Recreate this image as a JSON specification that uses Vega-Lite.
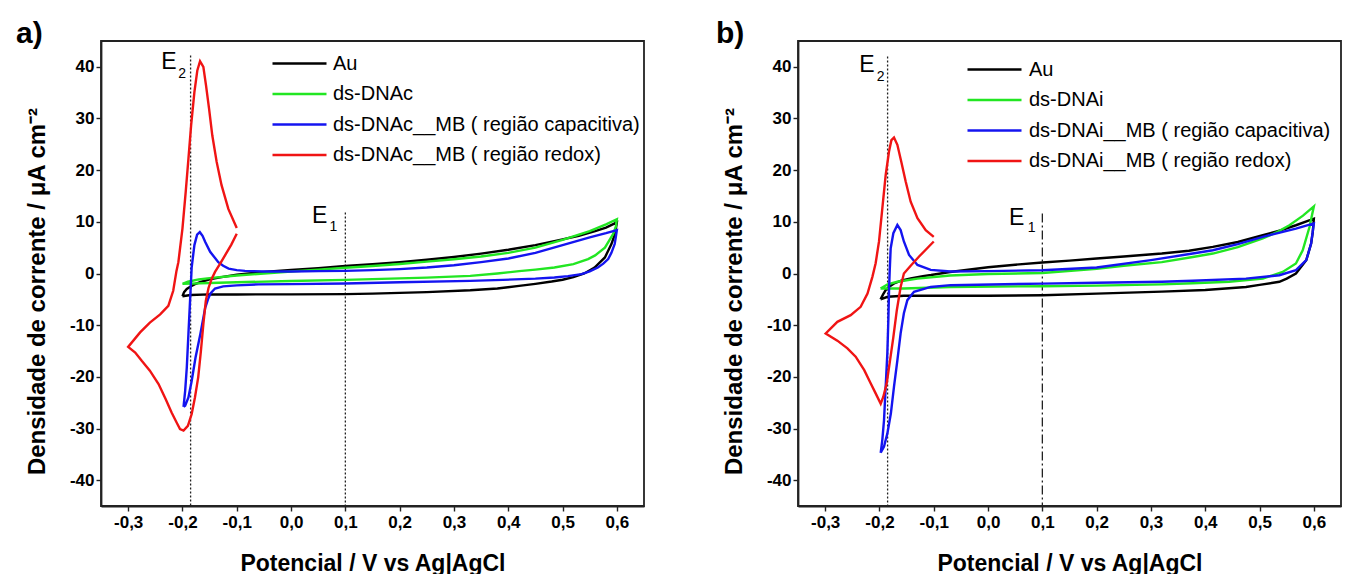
{
  "$schema": "https://vega.github.io/schema/vega-lite/v6.json",
  "background": "white",
  "padding": {"left": 15, "top": 18, "right": 5, "bottom": 0},
  "spacing": 70,
  "config": {
    "font": "Liberation Sans",
    "view": {"stroke": "#222", "strokeWidth": 1.8},
    "axis": {
      "grid": false,
      "domainColor": "#222",
      "domainWidth": 1.8,
      "tickColor": "#222",
      "tickWidth": 1.4,
      "labelFont": "Liberation Sans",
      "labelFontSize": 17,
      "labelFontWeight": "bold",
      "labelColor": "black",
      "labelOverlap": false,
      "labelFlush": false,
      "titleFont": "Liberation Sans",
      "titleFontWeight": "bold",
      "titleColor": "black"
    },
    "axisX": {
      "values": [-0.3, -0.25, -0.2, -0.15, -0.1, -0.05, 0, 0.05, 0.1, 0.15, 0.2, 0.25, 0.3, 0.35, 0.4, 0.45, 0.5, 0.55, 0.6],
      "labelExpr": "abs(datum.value*10 - round(datum.value*10)) > 0.01 ? '' : (datum.value < -0.001 ? '-' : '') + replace(format(abs(datum.value), '.1f'), '.', ',')",
      "tickSize": {"condition": {"test": "abs(datum.value*10 - round(datum.value*10)) > 0.01", "value": 3}, "value": 5},
      "labelPadding": 3,
      "titleFontSize": 23,
      "titlePadding": 22
    },
    "axisY": {
      "values": [-40, -35, -30, -25, -20, -15, -10, -5, 0, 5, 10, 15, 20, 25, 30, 35, 40],
      "labelExpr": "datum.value % 10 != 0 ? '' : (datum.value < 0 ? '-' : '') + format(abs(datum.value), 'd')",
      "tickSize": {"condition": {"test": "datum.value % 10 != 0", "value": 3}, "value": 5},
      "labelPadding": 2,
      "titleFontSize": 24,
      "titlePadding": 20,
      "titleY": 250
    },
    "legend": {
      "orient": "none",
      "title": null,
      "padding": 0,
      "symbolType": "M-3,0H3",
      "symbolSize": 324,
      "symbolStrokeWidth": 2.5,
      "labelFont": "Liberation Sans",
      "labelFontSize": 20,
      "labelColor": "black",
      "labelLimit": 400,
      "rowPadding": 9.5
    }
  },
  "resolve": {"scale": {"color": "independent"}, "legend": {"color": "independent"}},
  "hconcat": [
    {
      "width": 543,
      "height": 465,
      "title": {"text": "a)", "anchor": "start", "frame": "group", "fontSize": 30, "fontWeight": "bold", "color": "black", "dx": -85, "offset": -8, "baseline": "top"},
      "encoding": {
        "x": {"field": "E", "type": "quantitative", "scale": {"domain": [-0.35, 0.65], "nice": false, "zero": false}, "axis": {"title": "Potencial / V vs Ag|AgCl"}},
        "y": {"field": "j", "type": "quantitative", "scale": {"domain": [-45, 45], "nice": false, "zero": false}, "axis": {"title": "Densidade de corrente / μA cm⁻²"}}
      },
      "layer": [
        {
          "data": {"values": [{"E": -0.185, "j": 42.2}, {"E": 0.1, "j": 11.8}]},
          "mark": {"type": "rule", "strokeDash": [2, 2], "strokeWidth": 1.3, "color": "#222"},
          "encoding": {"y2": {"datum": -45}}
        },
        {
          "data": {"values": [
            {"s":"k","n":0,"E":-0.2,"j":-4.4},{"s":"k","n":1,"E":-0.197,"j":-3.6},{"s":"k","n":2,"E":-0.192,"j":-3.0},{"s":"k","n":3,"E":-0.185,"j":-2.5},{"s":"k","n":4,"E":-0.177,"j":-2.06},{"s":"k","n":5,"E":-0.165,"j":-1.6},{"s":"k","n":6,"E":-0.15,"j":-1.15},{"s":"k","n":7,"E":-0.128,"j":-0.7},{"s":"k","n":8,"E":-0.1,"j":-0.25},{"s":"k","n":9,"E":-0.05,"j":0.3},{"s":"k","n":10,"E":0,"j":0.7},{"s":"k","n":11,"E":0.05,"j":1.05},{"s":"k","n":12,"E":0.1,"j":1.45},{"s":"k","n":13,"E":0.15,"j":1.8},{"s":"k","n":14,"E":0.2,"j":2.2},{"s":"k","n":15,"E":0.25,"j":2.65},{"s":"k","n":16,"E":0.3,"j":3.2},{"s":"k","n":17,"E":0.35,"j":3.85},{"s":"k","n":18,"E":0.4,"j":4.6},{"s":"k","n":19,"E":0.45,"j":5.5},{"s":"k","n":20,"E":0.5,"j":6.6},{"s":"k","n":21,"E":0.53,"j":7.3},{"s":"k","n":22,"E":0.56,"j":8.2},{"s":"k","n":23,"E":0.58,"j":8.9},{"s":"k","n":24,"E":0.6,"j":9.9},
            {"s":"k","n":25,"E":0.597,"j":7.8},{"s":"k","n":26,"E":0.59,"j":5.7},{"s":"k","n":27,"E":0.578,"j":3.1},{"s":"k","n":28,"E":0.559,"j":1.16},{"s":"k","n":29,"E":0.54,"j":0.0},{"s":"k","n":30,"E":0.52,"j":-0.7},{"s":"k","n":31,"E":0.5,"j":-1.2},{"s":"k","n":32,"E":0.48,"j":-1.55},{"s":"k","n":33,"E":0.45,"j":-2.0},{"s":"k","n":34,"E":0.42,"j":-2.4},{"s":"k","n":35,"E":0.38,"j":-2.9},{"s":"k","n":36,"E":0.33,"j":-3.25},{"s":"k","n":37,"E":0.25,"j":-3.6},{"s":"k","n":38,"E":0.15,"j":-3.9},{"s":"k","n":39,"E":0.1,"j":-4.0},{"s":"k","n":40,"E":0,"j":-4.05},{"s":"k","n":41,"E":-0.1,"j":-4.05},{"s":"k","n":42,"E":-0.15,"j":-4.05},{"s":"k","n":43,"E":-0.185,"j":-4.15},{"s":"k","n":44,"E":-0.2,"j":-4.4},
            {"s":"g","n":0,"E":-0.2,"j":-2.0},{"s":"g","n":1,"E":-0.19,"j":-1.6},{"s":"g","n":2,"E":-0.17,"j":-1.15},{"s":"g","n":3,"E":-0.15,"j":-0.9},{"s":"g","n":4,"E":-0.1,"j":-0.4},{"s":"g","n":5,"E":-0.05,"j":0.0},{"s":"g","n":6,"E":0,"j":0.4},{"s":"g","n":7,"E":0.05,"j":0.75},{"s":"g","n":8,"E":0.1,"j":1.1},{"s":"g","n":9,"E":0.15,"j":1.45},{"s":"g","n":10,"E":0.2,"j":1.85},{"s":"g","n":11,"E":0.25,"j":2.3},{"s":"g","n":12,"E":0.3,"j":2.75},{"s":"g","n":13,"E":0.35,"j":3.3},{"s":"g","n":14,"E":0.4,"j":4.0},{"s":"g","n":15,"E":0.45,"j":5.0},{"s":"g","n":16,"E":0.5,"j":6.5},{"s":"g","n":17,"E":0.55,"j":8.2},{"s":"g","n":18,"E":0.58,"j":9.5},{"s":"g","n":19,"E":0.6,"j":10.5},
            {"s":"g","n":20,"E":0.598,"j":9.0},{"s":"g","n":21,"E":0.593,"j":7.6},{"s":"g","n":22,"E":0.585,"j":6.2},{"s":"g","n":23,"E":0.578,"j":5.0},{"s":"g","n":24,"E":0.56,"j":3.5},{"s":"g","n":25,"E":0.547,"j":2.8},{"s":"g","n":26,"E":0.52,"j":1.8},{"s":"g","n":27,"E":0.485,"j":1.16},{"s":"g","n":28,"E":0.45,"j":0.75},{"s":"g","n":29,"E":0.42,"j":0.45},{"s":"g","n":30,"E":0.38,"j":0.0},{"s":"g","n":31,"E":0.33,"j":-0.45},{"s":"g","n":32,"E":0.25,"j":-0.8},{"s":"g","n":33,"E":0.2,"j":-0.95},{"s":"g","n":34,"E":0.1,"j":-1.23},{"s":"g","n":35,"E":0,"j":-1.45},{"s":"g","n":36,"E":-0.1,"j":-1.7},{"s":"g","n":37,"E":-0.15,"j":-1.85},{"s":"g","n":38,"E":-0.2,"j":-2.0},
            {"s":"b","n":0,"E":-0.198,"j":-25.8},{"s":"b","n":1,"E":-0.195,"j":-22.7},{"s":"b","n":2,"E":-0.192,"j":-18.2},{"s":"b","n":3,"E":-0.189,"j":-11.7},{"s":"b","n":4,"E":-0.186,"j":-5.3},{"s":"b","n":5,"E":-0.183,"j":1.2},{"s":"b","n":6,"E":-0.178,"j":5.5},{"s":"b","n":7,"E":-0.173,"j":7.5},{"s":"b","n":8,"E":-0.168,"j":8.0},{"s":"b","n":9,"E":-0.163,"j":7.3},{"s":"b","n":10,"E":-0.158,"j":6.1},{"s":"b","n":11,"E":-0.149,"j":4.2},{"s":"b","n":12,"E":-0.14,"j":3.0},{"s":"b","n":13,"E":-0.134,"j":2.2},{"s":"b","n":14,"E":-0.125,"j":1.5},{"s":"b","n":15,"E":-0.115,"j":0.94},{"s":"b","n":16,"E":-0.1,"j":0.65},{"s":"b","n":17,"E":-0.085,"j":0.5},{"s":"b","n":18,"E":-0.05,"j":0.4},{"s":"b","n":19,"E":0,"j":0.4},{"s":"b","n":20,"E":0.05,"j":0.45},{"s":"b","n":21,"E":0.1,"j":0.5},{"s":"b","n":22,"E":0.15,"j":0.65},{"s":"b","n":23,"E":0.2,"j":0.85},{"s":"b","n":24,"E":0.25,"j":1.15},{"s":"b","n":25,"E":0.3,"j":1.6},{"s":"b","n":26,"E":0.35,"j":2.2},{"s":"b","n":27,"E":0.4,"j":2.9},{"s":"b","n":28,"E":0.45,"j":4.0},{"s":"b","n":29,"E":0.5,"j":5.5},{"s":"b","n":30,"E":0.55,"j":7.0},{"s":"b","n":31,"E":0.58,"j":7.8},{"s":"b","n":32,"E":0.6,"j":8.4},
            {"s":"b","n":33,"E":0.598,"j":7.0},{"s":"b","n":34,"E":0.596,"j":5.7},{"s":"b","n":35,"E":0.59,"j":4.0},{"s":"b","n":36,"E":0.584,"j":2.8},{"s":"b","n":37,"E":0.575,"j":1.9},{"s":"b","n":38,"E":0.565,"j":1.16},{"s":"b","n":39,"E":0.55,"j":0.4},{"s":"b","n":40,"E":0.535,"j":-0.13},{"s":"b","n":41,"E":0.51,"j":-0.5},{"s":"b","n":42,"E":0.485,"j":-0.78},{"s":"b","n":43,"E":0.45,"j":-1.0},{"s":"b","n":44,"E":0.39,"j":-1.23},{"s":"b","n":45,"E":0.33,"j":-1.42},{"s":"b","n":46,"E":0.2,"j":-1.7},{"s":"b","n":47,"E":0.1,"j":-1.94},{"s":"b","n":48,"E":0,"j":-2.05},{"s":"b","n":49,"E":-0.06,"j":-2.1},{"s":"b","n":50,"E":-0.1,"j":-2.3},{"s":"b","n":51,"E":-0.125,"j":-2.5},{"s":"b","n":52,"E":-0.14,"j":-2.9},{"s":"b","n":53,"E":-0.148,"j":-3.8},{"s":"b","n":54,"E":-0.153,"j":-5.0},{"s":"b","n":55,"E":-0.158,"j":-6.6},{"s":"b","n":56,"E":-0.167,"j":-11.7},{"s":"b","n":57,"E":-0.176,"j":-16.3},{"s":"b","n":58,"E":-0.183,"j":-20.8},{"s":"b","n":59,"E":-0.189,"j":-24.0},{"s":"b","n":60,"E":-0.195,"j":-25.6},{"s":"b","n":61,"E":-0.198,"j":-25.8},
            {"s":"r","n":0,"E":-0.1,"j":7.7},{"s":"r","n":1,"E":-0.11,"j":5.6},{"s":"r","n":2,"E":-0.12,"j":3.8},{"s":"r","n":3,"E":-0.13,"j":2.0},{"s":"r","n":4,"E":-0.14,"j":0.3},{"s":"r","n":5,"E":-0.146,"j":-1.0},{"s":"r","n":6,"E":-0.152,"j":-2.8},{"s":"r","n":7,"E":-0.157,"j":-5.3},{"s":"r","n":8,"E":-0.1615,"j":-9.8},{"s":"r","n":9,"E":-0.166,"j":-15.0},{"s":"r","n":10,"E":-0.171,"j":-20.1},{"s":"r","n":11,"E":-0.177,"j":-24.0},{"s":"r","n":12,"E":-0.183,"j":-27.2},{"s":"r","n":13,"E":-0.19,"j":-29.5},{"s":"r","n":14,"E":-0.198,"j":-30.4},{"s":"r","n":15,"E":-0.2045,"j":-30.1},{"s":"r","n":16,"E":-0.211,"j":-28.8},{"s":"r","n":17,"E":-0.22,"j":-26.9},{"s":"r","n":18,"E":-0.231,"j":-24.3},{"s":"r","n":19,"E":-0.244,"j":-21.4},{"s":"r","n":20,"E":-0.26,"j":-18.8},{"s":"r","n":21,"E":-0.275,"j":-16.9},{"s":"r","n":22,"E":-0.287,"j":-15.3},{"s":"r","n":23,"E":-0.3,"j":-14.2},
            {"s":"r","n":24,"E":-0.278,"j":-11.4},{"s":"r","n":25,"E":-0.26,"j":-9.5},{"s":"r","n":26,"E":-0.241,"j":-7.9},{"s":"r","n":27,"E":-0.226,"j":-6.25},{"s":"r","n":28,"E":-0.217,"j":-3.35},{"s":"r","n":29,"E":-0.211,"j":0.5},{"s":"r","n":30,"E":-0.2075,"j":2.2},{"s":"r","n":31,"E":-0.2,"j":8.7},{"s":"r","n":32,"E":-0.194,"j":15.8},{"s":"r","n":33,"E":-0.189,"j":22.2},{"s":"r","n":34,"E":-0.184,"j":28.7},{"s":"r","n":35,"E":-0.178,"j":35.1},{"s":"r","n":36,"E":-0.1726,"j":39.3},{"s":"r","n":37,"E":-0.1676,"j":41.1},{"s":"r","n":38,"E":-0.1615,"j":40.0},{"s":"r","n":39,"E":-0.1566,"j":36.4},{"s":"r","n":40,"E":-0.151,"j":31.9},{"s":"r","n":41,"E":-0.145,"j":26.7},{"s":"r","n":42,"E":-0.137,"j":21.6},{"s":"r","n":43,"E":-0.128,"j":17.1},{"s":"r","n":44,"E":-0.1155,"j":12.5},{"s":"r","n":45,"E":-0.1,"j":8.8}
          ]},
          "mark": {"type": "line", "strokeWidth": 2.4},
          "encoding": {
            "color": {"field": "s", "type": "nominal",
              "scale": {"domain": ["k", "g", "b", "r"], "range": ["#000000", "#22e622", "#1414f0", "#f01414"]},
              "legend": {"legendX": 188, "legendY": 12, "labelOffset": 23,
                "labelExpr": "datum.label == 'k' ? 'Au' : datum.label == 'g' ? 'ds-DNAc' : datum.label == 'b' ? 'ds-DNAc__MB ( região capacitiva)' : 'ds-DNAc__MB ( região redox)'"}},
            "order": {"field": "n", "type": "quantitative"}
          }
        },
        {
          "data": {"values": [{"t": "E", "E": -0.239, "j": 39.6}, {"t": "E", "E": 0.0386, "j": 9.86}]},
          "mark": {"type": "text", "fontSize": 23, "align": "left", "baseline": "alphabetic", "color": "black"},
          "encoding": {"text": {"field": "t"}}
        },
        {
          "data": {"values": [{"t": "2", "E": -0.2076, "j": 37.85}, {"t": "1", "E": 0.071, "j": 8.26}]},
          "mark": {"type": "text", "fontSize": 14, "align": "left", "baseline": "alphabetic", "color": "black"},
          "encoding": {"text": {"field": "t"}}
        }
      ]
    },
    {
      "width": 543,
      "height": 465,
      "title": {"text": "b)", "anchor": "start", "frame": "group", "fontSize": 30, "fontWeight": "bold", "color": "black", "dx": -82, "offset": -8, "baseline": "top"},
      "encoding": {
        "x": {"field": "E", "type": "quantitative", "scale": {"domain": [-0.35, 0.65], "nice": false, "zero": false}, "axis": {"title": "Potencial / V vs Ag|AgCl"}},
        "y": {"field": "j", "type": "quantitative", "scale": {"domain": [-45, 45], "nice": false, "zero": false}, "axis": {"title": "Densidade de corrente / μA cm⁻²"}}
      },
      "layer": [
        {
          "data": {"values": [{"E": -0.185, "j": 42.0}]},
          "mark": {"type": "rule", "strokeDash": [2, 2], "strokeWidth": 1.3, "color": "#222"},
          "encoding": {"y2": {"datum": -45}}
        },
        {
          "data": {"values": [{"E": 0.1, "j": 11.6}]},
          "mark": {"type": "rule", "strokeDash": [9, 3, 2, 3], "strokeWidth": 1.3, "color": "#222"},
          "encoding": {"y2": {"datum": -45}}
        },
        {
          "data": {"values": [
            {"s":"k","n":0,"E":-0.198,"j":-5.0},{"s":"k","n":1,"E":-0.193,"j":-4.0},{"s":"k","n":2,"E":-0.1885,"j":-3.2},{"s":"k","n":3,"E":-0.18,"j":-2.4},{"s":"k","n":4,"E":-0.173,"j":-1.93},{"s":"k","n":5,"E":-0.16,"j":-1.4},{"s":"k","n":6,"E":-0.1425,"j":-0.97},{"s":"k","n":7,"E":-0.12,"j":-0.5},{"s":"k","n":8,"E":-0.105,"j":-0.3},{"s":"k","n":9,"E":-0.07,"j":0.3},{"s":"k","n":10,"E":0,"j":1.2},{"s":"k","n":11,"E":0.05,"j":1.7},{"s":"k","n":12,"E":0.1,"j":2.12},{"s":"k","n":13,"E":0.15,"j":2.5},{"s":"k","n":14,"E":0.2,"j":2.9},{"s":"k","n":15,"E":0.25,"j":3.3},{"s":"k","n":16,"E":0.32,"j":3.86},{"s":"k","n":17,"E":0.37,"j":4.4},{"s":"k","n":18,"E":0.414,"j":5.15},{"s":"k","n":19,"E":0.46,"j":6.1},{"s":"k","n":20,"E":0.506,"j":7.4},{"s":"k","n":21,"E":0.54,"j":8.4},{"s":"k","n":22,"E":0.567,"j":9.34},{"s":"k","n":23,"E":0.6,"j":10.6},
            {"s":"k","n":24,"E":0.598,"j":8.0},{"s":"k","n":25,"E":0.595,"j":5.8},{"s":"k","n":26,"E":0.586,"j":2.57},{"s":"k","n":27,"E":0.567,"j":0.0},{"s":"k","n":28,"E":0.55,"j":-1.0},{"s":"k","n":29,"E":0.5365,"j":-1.6},{"s":"k","n":30,"E":0.5,"j":-2.2},{"s":"k","n":31,"E":0.475,"j":-2.6},{"s":"k","n":32,"E":0.4,"j":-3.2},{"s":"k","n":33,"E":0.32,"j":-3.5},{"s":"k","n":34,"E":0.2,"j":-3.9},{"s":"k","n":35,"E":0.1,"j":-4.2},{"s":"k","n":36,"E":0,"j":-4.3},{"s":"k","n":37,"E":-0.1,"j":-4.3},{"s":"k","n":38,"E":-0.155,"j":-4.3},{"s":"k","n":39,"E":-0.185,"j":-4.5},{"s":"k","n":40,"E":-0.198,"j":-5.0},
            {"s":"g","n":0,"E":-0.198,"j":-2.9},{"s":"g","n":1,"E":-0.185,"j":-2.1},{"s":"g","n":2,"E":-0.167,"j":-1.6},{"s":"g","n":3,"E":-0.13,"j":-1.0},{"s":"g","n":4,"E":-0.07,"j":-0.4},{"s":"g","n":5,"E":0,"j":-0.1},{"s":"g","n":6,"E":0.1,"j":0.1},{"s":"g","n":7,"E":0.2,"j":0.9},{"s":"g","n":8,"E":0.25,"j":1.5},{"s":"g","n":9,"E":0.32,"j":2.2},{"s":"g","n":10,"E":0.377,"j":3.2},{"s":"g","n":11,"E":0.414,"j":3.86},{"s":"g","n":12,"E":0.46,"j":5.1},{"s":"g","n":13,"E":0.506,"j":6.8},{"s":"g","n":14,"E":0.53,"j":7.9},{"s":"g","n":15,"E":0.555,"j":9.34},{"s":"g","n":16,"E":0.58,"j":11.2},{"s":"g","n":17,"E":0.6,"j":13.0},
            {"s":"g","n":18,"E":0.592,"j":9.0},{"s":"g","n":19,"E":0.5795,"j":4.5},{"s":"g","n":20,"E":0.567,"j":1.93},{"s":"g","n":21,"E":0.5426,"j":0.3},{"s":"g","n":22,"E":0.506,"j":-0.98},{"s":"g","n":23,"E":0.444,"j":-1.6},{"s":"g","n":24,"E":0.377,"j":-1.9},{"s":"g","n":25,"E":0.32,"j":-2.1},{"s":"g","n":26,"E":0.2,"j":-2.35},{"s":"g","n":27,"E":0.1,"j":-2.46},{"s":"g","n":28,"E":-0.07,"j":-2.6},{"s":"g","n":29,"E":-0.155,"j":-2.9},{"s":"g","n":30,"E":-0.198,"j":-2.9},
            {"s":"b","n":0,"E":-0.1977,"j":-34.7},{"s":"b","n":1,"E":-0.1947,"j":-32.2},{"s":"b","n":2,"E":-0.1916,"j":-28.4},{"s":"b","n":3,"E":-0.1885,"j":-21.9},{"s":"b","n":4,"E":-0.1855,"j":-15.5},{"s":"b","n":5,"E":-0.1836,"j":-9.0},{"s":"b","n":6,"E":-0.1822,"j":-2.6},{"s":"b","n":7,"E":-0.181,"j":0.8},{"s":"b","n":8,"E":-0.1793,"j":4.9},{"s":"b","n":9,"E":-0.1744,"j":7.8},{"s":"b","n":10,"E":-0.167,"j":9.4},{"s":"b","n":11,"E":-0.161,"j":8.4},{"s":"b","n":12,"E":-0.155,"j":6.2},{"s":"b","n":13,"E":-0.1455,"j":3.6},{"s":"b","n":14,"E":-0.13,"j":1.66},{"s":"b","n":15,"E":-0.1056,"j":0.7},{"s":"b","n":16,"E":-0.0688,"j":0.4},{"s":"b","n":17,"E":0,"j":0.45},{"s":"b","n":18,"E":0.1,"j":0.64},{"s":"b","n":19,"E":0.2,"j":1.15},{"s":"b","n":20,"E":0.3,"j":2.6},{"s":"b","n":21,"E":0.377,"j":3.86},{"s":"b","n":22,"E":0.414,"j":4.5},{"s":"b","n":23,"E":0.46,"j":5.7},{"s":"b","n":24,"E":0.506,"j":7.1},{"s":"b","n":25,"E":0.567,"j":8.7},{"s":"b","n":26,"E":0.6,"j":9.7},
            {"s":"b","n":27,"E":0.595,"j":5.8},{"s":"b","n":28,"E":0.586,"j":2.57},{"s":"b","n":29,"E":0.567,"j":0.64},{"s":"b","n":30,"E":0.5365,"j":-0.33},{"s":"b","n":31,"E":0.475,"j":-1.0},{"s":"b","n":32,"E":0.377,"j":-1.4},{"s":"b","n":33,"E":0.32,"j":-1.6},{"s":"b","n":34,"E":0.2,"j":-1.8},{"s":"b","n":35,"E":0.1,"j":-1.95},{"s":"b","n":36,"E":-0.0688,"j":-2.26},{"s":"b","n":37,"E":-0.1056,"j":-2.6},{"s":"b","n":38,"E":-0.1364,"j":-3.55},{"s":"b","n":39,"E":-0.1486,"j":-5.16},{"s":"b","n":40,"E":-0.155,"j":-7.7},{"s":"b","n":41,"E":-0.161,"j":-11.6},{"s":"b","n":42,"E":-0.167,"j":-16.8},{"s":"b","n":43,"E":-0.1732,"j":-21.9},{"s":"b","n":44,"E":-0.179,"j":-27.1},{"s":"b","n":45,"E":-0.1855,"j":-31.0},{"s":"b","n":46,"E":-0.1916,"j":-33.5},{"s":"b","n":47,"E":-0.1977,"j":-34.7},
            {"s":"r","n":0,"E":-0.1,"j":6.2},{"s":"r","n":1,"E":-0.1148,"j":4.6},{"s":"r","n":2,"E":-0.127,"j":3.3},{"s":"r","n":3,"E":-0.1425,"j":1.5},{"s":"r","n":4,"E":-0.155,"j":0.0},{"s":"r","n":5,"E":-0.161,"j":-2.6},{"s":"r","n":6,"E":-0.168,"j":-7.1},{"s":"r","n":7,"E":-0.1744,"j":-12.3},{"s":"r","n":8,"E":-0.1805,"j":-16.8},{"s":"r","n":9,"E":-0.1867,"j":-21.3},{"s":"r","n":10,"E":-0.193,"j":-23.9},{"s":"r","n":11,"E":-0.1977,"j":-25.2},{"s":"r","n":12,"E":-0.207,"j":-23.2},{"s":"r","n":13,"E":-0.216,"j":-21.3},{"s":"r","n":14,"E":-0.228,"j":-18.7},{"s":"r","n":15,"E":-0.2438,"j":-16.1},{"s":"r","n":16,"E":-0.259,"j":-14.5},{"s":"r","n":17,"E":-0.2775,"j":-13.0},{"s":"r","n":18,"E":-0.299,"j":-11.6},
            {"s":"r","n":19,"E":-0.2775,"j":-9.35},{"s":"r","n":20,"E":-0.253,"j":-8.07},{"s":"r","n":21,"E":-0.2346,"j":-6.45},{"s":"r","n":22,"E":-0.222,"j":-3.87},{"s":"r","n":23,"E":-0.213,"j":-0.65},{"s":"r","n":24,"E":-0.207,"j":2.0},{"s":"r","n":25,"E":-0.2008,"j":6.2},{"s":"r","n":26,"E":-0.1947,"j":12.6},{"s":"r","n":27,"E":-0.1885,"j":19.07},{"s":"r","n":28,"E":-0.1824,"j":23.6},{"s":"r","n":29,"E":-0.178,"j":25.8},{"s":"r","n":30,"E":-0.1732,"j":26.3},{"s":"r","n":31,"E":-0.167,"j":24.9},{"s":"r","n":32,"E":-0.1597,"j":21.6},{"s":"r","n":33,"E":-0.1517,"j":17.8},{"s":"r","n":34,"E":-0.1425,"j":13.9},{"s":"r","n":35,"E":-0.13,"j":10.7},{"s":"r","n":36,"E":-0.1148,"j":8.4},{"s":"r","n":37,"E":-0.1,"j":7.1}
          ]},
          "mark": {"type": "line", "strokeWidth": 2.4},
          "encoding": {
            "color": {"field": "s", "type": "nominal",
              "scale": {"domain": ["k", "g", "b", "r"], "range": ["#000000", "#22e622", "#1414f0", "#f01414"]},
              "legend": {"legendX": 186, "legendY": 18, "labelOffset": 24,
                "labelExpr": "datum.label == 'k' ? 'Au' : datum.label == 'g' ? 'ds-DNAi' : datum.label == 'b' ? 'ds-DNAi__MB ( região capacitiva)' : 'ds-DNAi__MB ( região redox)'"}},
            "order": {"field": "n", "type": "quantitative"}
          }
        },
        {
          "data": {"values": [{"t": "E", "E": -0.237, "j": 39.07}, {"t": "E", "E": 0.0386, "j": 9.34}]},
          "mark": {"type": "text", "fontSize": 23, "align": "left", "baseline": "alphabetic", "color": "black"},
          "encoding": {"text": {"field": "t"}}
        },
        {
          "data": {"values": [{"t": "2", "E": -0.205, "j": 37.27}, {"t": "1", "E": 0.073, "j": 8.1}]},
          "mark": {"type": "text", "fontSize": 14, "align": "left", "baseline": "alphabetic", "color": "black"},
          "encoding": {"text": {"field": "t"}}
        }
      ]
    }
  ]
}
